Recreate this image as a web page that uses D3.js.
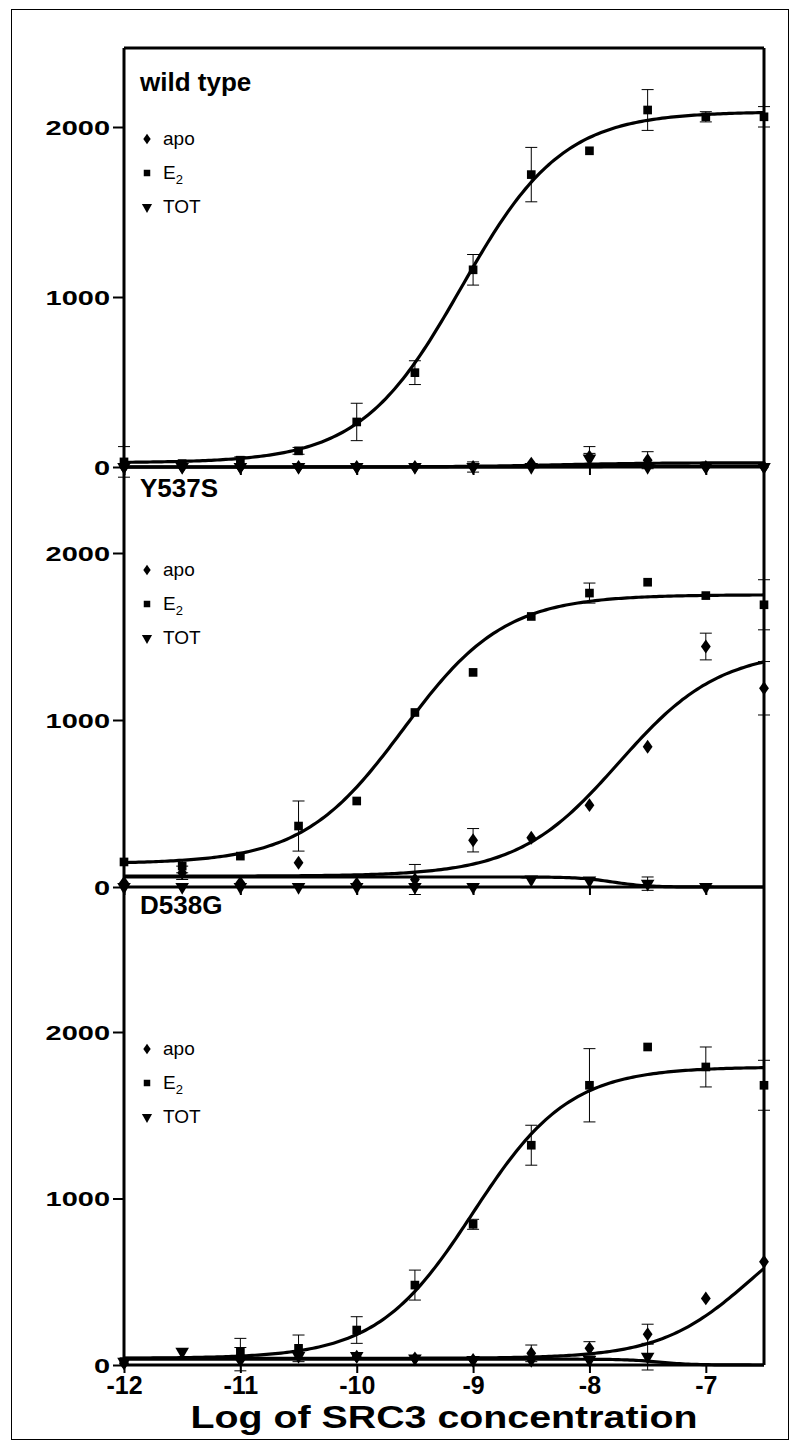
<!DOCTYPE html>
<html><head><meta charset="utf-8">
<script src="https://cdn.jsdelivr.net/npm/d3@7"></script>
<style>body{margin:0;background:#fff}svg{display:block}</style>
</head><body><svg id="c" width="790" height="1443"></svg>
<script>
// ---------- data ----------
const xValues = [-12, -11.5, -11, -10.5, -10, -9.5, -9, -8.5, -8, -7.5, -7, -6.5];
const xTicks = [-12, -11, -10, -9, -8, -7];
const yTicks = [0, 1000, 2000];
const panelNames = ["wild type", "Y537S", "D538G"];
const seriesNames = ["apo", "E2", "TOT"];
const xTitle = "Log of SRC3 concentration";

// wild type
const wtApo    = [0, 0, 0, 0, 0, 0, 0, 20, 60, 40, 0, 0];
const wtApoErr = [0, 0, 0, 0, 0, 0, 0, 0, 60, 50, 0, 0];
const wtE2     = [30, 20, 40, 95, 265, 555, 1160, 1720, 1860, 2100, 2060, 2060];
const wtE2Err  = [90, 0, 20, 20, 110, 70, 90, 160, 0, 120, 30, 60];
const wtTot    = [0, 0, 0, 0, 0, 0, 0, 0, 50, 0, 0, 0];
const wtTotErr = [0, 0, 0, 0, 0, 0, 30, 0, 30, 0, 0, 0];
// Y537S
const ysApo    = [25, 85, 25, 145, 20, 45, 280, 295, 490, 840, 1440, 1190];
const ysApoErr = [0, 40, 0, 0, 0, 90, 70, 0, 0, 0, 80, 160];
const ysE2     = [150, 125, 185, 365, 515, 1045, 1285, 1620, 1760, 1825, 1745, 1690];
const ysE2Err  = [0, 40, 0, 150, 0, 0, 0, 0, 60, 0, 0, 150];
const ysTot    = [0, 0, 0, 0, 0, 0, 0, 45, 40, 20, 0, null];
const ysTotErr = [0, 0, 0, 0, 0, 0, 0, 0, 0, 40, 0, 0];
// D538G
const dgApo    = [10, null, 30, 60, 50, 40, 30, 70, 100, 185, 400, 620];
const dgApoErr = [0, 0, 0, 0, 0, 0, 0, 50, 40, 60, 0, 0];
const dgE2     = [20, null, 80, 100, 210, 480, 845, 1320, 1680, 1910, 1790, 1680];
const dgE2Err  = [0, 0, 80, 80, 80, 90, 30, 120, 220, 0, 120, 150];
const dgTot    = [20, 80, 35, 55, 55, 40, 30, 30, 30, 50, null, null];
const dgTotErr = [0, 0, 70, 0, 0, 0, 0, 0, 0, 80, 0, 0];

// fitted 4-parameter curves: [bottom, top, logEC50, hill]
const wtFits = [[0, 25, -8.3, 1], [25, 2090, -9.1, 1.0], [0, 5, -8, 1]];
const ysFits = [[65, 1420, -7.75, 1.0], [140, 1750, -9.6, 1.0], [60, 0, -7.8, 3]];
const dgFits = [[40, 1000, -6.6, 1.1], [40, 1790, -9.0, 1.05], [35, 0, -7.4, 3]];

const panels = [
  {name: panelNames[0], values: [wtApo, wtE2, wtTot], errs: [wtApoErr, wtE2Err, wtTotErr], fits: wtFits},
  {name: panelNames[1], values: [ysApo, ysE2, ysTot], errs: [ysApoErr, ysE2Err, ysTotErr], fits: ysFits},
  {name: panelNames[2], values: [dgApo, dgE2, dgTot], errs: [dgApoErr, dgE2Err, dgTotErr], fits: dgFits}
];

// ---------- layout ----------
const X0 = 124, X1 = 764;
const geo = [
  {top: 48, zero: 467, y2000: 127, titleY: 91, legY: 139},
  {top: 467, zero: 887, y2000: 553, titleY: 497, legY: 570},
  {top: 887, zero: 1365, y2000: 1032, titleY: 914, legY: 1049}
];
const legStep = 34;
const FONT = "'Liberation Sans', Arial, Helvetica, sans-serif";

const svg = d3.select("#c");
svg.append("rect").attr("x", 11.5).attr("y", 9.5).attr("width", 777).attr("height", 1430)
  .attr("fill", "none").attr("stroke", "#000").attr("stroke-width", 1);

const x = d3.scaleLinear().domain([-12, -6.5]).range([X0, X1]);

const sym = [
  d3.symbol().type(d3.symbolDiamond2).size(85),
  d3.symbol().type(d3.symbolSquare).size(75),
  d3.symbol().type(d3.symbolTriangle).size(80)
];
function symTransform(k) {
  return (k === 2 ? " rotate(180)" : "") + (k === 0 ? " scale(0.85,1.2)" : "");
}

function logistic(p, lx) { return p[0] + (p[1] - p[0]) / (1 + Math.pow(10, (p[2] - lx) * p[3])); }

panels.forEach((p, pi) => {
  const g = geo[pi];
  const y = d3.scaleLinear().domain([0, 2000]).range([g.zero, g.y2000]);
  const gp = svg.append("g");

  // box: top + right
  if (pi === 0) gp.append("line").attr("x1", X0).attr("x2", X1).attr("y1", g.top).attr("y2", g.top)
      .attr("stroke", "#000").attr("stroke-width", 3);
  gp.append("line").attr("x1", X1).attr("x2", X1).attr("y1", g.top).attr("y2", g.zero)
      .attr("stroke", "#000").attr("stroke-width", 3);

  // y axis
  const ya = d3.axisLeft(y).tickValues(yTicks).tickSize(11).tickPadding(3).tickFormat(d3.format("d"));
  const yg = gp.append("g").attr("transform", `translate(${X0},0)`).call(ya);
  yg.select(".domain").attr("d", `M0,${g.top}V${g.zero}`).attr("stroke-width", 3);
  yg.selectAll(".tick line").attr("stroke-width", 2);
  yg.selectAll(".tick text").attr("font-family", FONT).attr("font-weight", "bold")
    .attr("font-size", 20).attr("fill", "#000")
    .attr("transform", `translate(-14,0) scale(1.45,1) translate(14,0)`)
    .attr("dy", "0.36em");

  // x axis
  const xa = d3.axisBottom(x).tickValues(xTicks).tickSize(8).tickPadding(3);
  const xg = gp.append("g").attr("transform", `translate(0,${g.zero})`).call(xa);
  xg.select(".domain").attr("d", `M${X0},0H${X1}`).attr("stroke-width", 3);
  xg.selectAll(".tick line").attr("stroke-width", 2);
  if (pi === 2) {
    xg.selectAll(".tick text").attr("font-family", FONT).attr("font-weight", "bold")
      .attr("font-size", 25).attr("fill", "#000").text(d => String(d));
  } else {
    xg.selectAll(".tick text").remove();
  }

  // fitted curves
  const grid = d3.range(0, 221).map(i => -12 + i * 0.025);
  [2, 0, 1].forEach(k => {
    const line = d3.line().x(d => x(d)).y(d => y(logistic(p.fits[k], d)));
    gp.append("path").attr("d", line(grid)).attr("fill", "none")
      .attr("stroke", "#000").attr("stroke-width", 3.2).attr("stroke-linejoin", "round");
  });

  // error bars + points
  [2, 0, 1].forEach(k => {
    const vals = p.values[k], errs = p.errs[k];
    vals.forEach((v, i) => {
      if (v === null) return;
      const e = errs[i];
      const cx = x(xValues[i]);
      if (e > 0) {
        gp.append("path")
          .attr("d", `M${cx},${y(v - e)}V${y(v + e)}M${cx - 6},${y(v - e)}H${cx + 6}M${cx - 6},${y(v + e)}H${cx + 6}`)
          .attr("stroke", "#000").attr("stroke-width", 1).attr("fill", "none");
      }
      gp.append("path").attr("d", sym[k]())
        .attr("transform", `translate(${cx},${y(v)})${symTransform(k)}`)
        .attr("fill", "#000");
    });
  });

  // title
  gp.append("text").attr("x", 140).attr("y", g.titleY).text(p.name)
    .attr("font-family", FONT).attr("font-weight", "bold").attr("font-size", 26).attr("fill", "#000");

  // legend
  seriesNames.forEach((s, k) => {
    const ly = g.legY + k * legStep;
    gp.append("path").attr("d", sym[k]())
      .attr("transform", `translate(147,${ly})${symTransform(k)} scale(0.75)`)
      .attr("fill", "#000");
    const t = gp.append("text").attr("x", 163).attr("y", ly + 6)
      .attr("font-family", FONT).attr("font-size", 19).attr("fill", "#000");
    if (s === "E2") {
      t.append("tspan").text("E");
      t.append("tspan").text("2").attr("font-size", 13).attr("dy", 5);
    } else {
      t.text(s);
    }
  });
});

// x title
svg.append("text").attr("x", 444).attr("y", 1428).attr("text-anchor", "middle")
  .attr("font-family", FONT).attr("font-weight", "bold").attr("font-size", 31)
  .attr("textLength", 507).attr("lengthAdjust", "spacingAndGlyphs").attr("fill", "#000")
  .text(xTitle);
</script>
</body></html>
